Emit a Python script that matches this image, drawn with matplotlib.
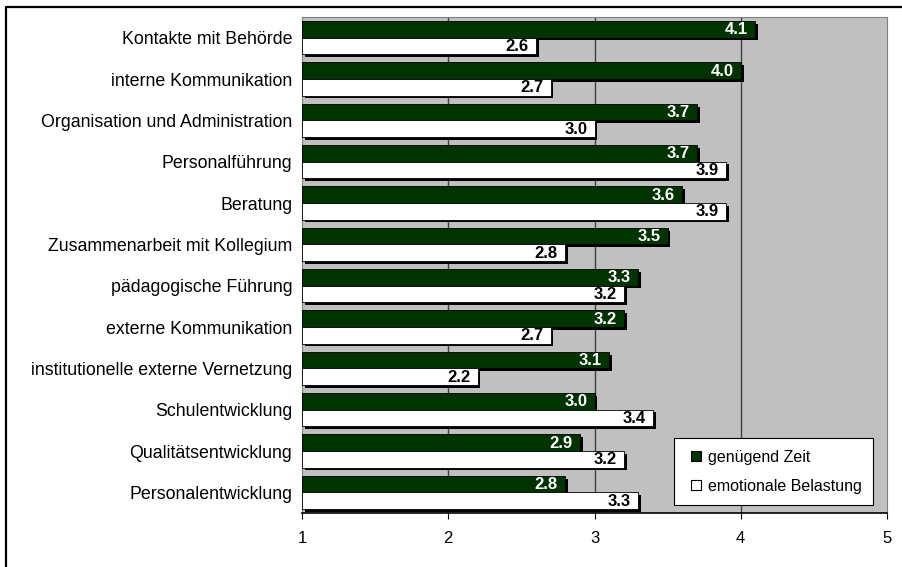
import matplotlib
matplotlib.use("Agg")
import matplotlib.pyplot as plt
import matplotlib.patheffects as pe
from matplotlib.lines import Line2D
import numpy as np

plt.rcParams['font.family'] = ['Liberation Sans', 'DejaVu Sans']

# Daten
kategorien = ['Kontakte mit Behörde', 'interne Kommunikation',
              'Organisation und Administration', 'Personalführung', 'Beratung',
              'Zusammenarbeit mit Kollegium', 'pädagogische Führung',
              'externe Kommunikation', 'institutionelle externe Vernetzung',
              'Schulentwicklung', 'Qualitätsentwicklung', 'Personalentwicklung']
genuegend_zeit = [4.1, 4.0, 3.7, 3.7, 3.6, 3.5, 3.3, 3.2, 3.1, 3.0, 2.9, 2.8]
emotionale_belastung = [2.6, 2.7, 3.0, 3.9, 3.9, 2.8, 3.2, 2.7, 2.2, 3.4, 3.2, 3.3]
serien = ['genügend Zeit', 'emotionale Belastung']
x_ticks = [1, 2, 3, 4, 5]

gruen = '#003300'
grau = '#c0c0c0'

fig = plt.figure(figsize=(9.03, 5.67), dpi=100)
ax = fig.add_axes([302 / 903, 1 - 513 / 567, 585 / 903, 496 / 567])
ax.set_facecolor(grau)

y = np.arange(len(kategorien))
h = 0.4
schatten = [pe.SimplePatchShadow(offset=(2.0, -2.0), shadow_rgbFace='black', alpha=1.0), pe.Normal()]

b1 = ax.barh(y - 0.2, np.array(genuegend_zeit) - 1, left=1, height=h,
             color=gruen, edgecolor='black', linewidth=0.6, zorder=3)
b2 = ax.barh(y + 0.2, np.array(emotionale_belastung) - 1, left=1, height=h,
             color='white', edgecolor='black', linewidth=0.6, zorder=3)
for bar in list(b1) + list(b2):
    bar.set_path_effects(schatten)

for yi, v in zip(y, genuegend_zeit):
    ax.text(v - 0.05, yi - 0.19, f'{v:.1f}', ha='right', va='center',
            color='white', fontsize=12, fontweight='bold', zorder=4)
for yi, v in zip(y, emotionale_belastung):
    ax.text(v - 0.05, yi + 0.21, f'{v:.1f}', ha='right', va='center',
            color='black', fontsize=12, fontweight='bold', zorder=4)

ax.set_xlim(1, 5)
ax.set_ylim(len(kategorien) - 0.5, -0.5)
ax.set_xticks(x_ticks)
ax.set_xticklabels([str(t) for t in x_ticks], fontsize=12)
ax.set_yticks(y)
ax.set_yticklabels(kategorien, fontsize=12.8)
ax.tick_params(axis='y', length=0, pad=7)
ax.tick_params(axis='x', length=4, direction='out', pad=9, color='black')

for gx in [2, 3, 4]:
    ax.axvline(gx, color='#404040', linewidth=1, zorder=1)

for s in ['top', 'right', 'left']:
    ax.spines[s].set_color('#808080')
ax.spines['bottom'].set_color('black')
ax.spines['bottom'].set_linewidth(1.2)

# Legende mit quadratischen Symbolen
handles = [Line2D([], [], linestyle='none', marker='s', markersize=7.5,
                  markerfacecolor=gruen, markeredgecolor='black', markeredgewidth=0.8),
           Line2D([], [], linestyle='none', marker='s', markersize=7.5,
                  markerfacecolor='white', markeredgecolor='black', markeredgewidth=0.8)]
leg = ax.legend(handles, serien, loc='lower right', bbox_to_anchor=(0.976, 0.016),
                fontsize=11.5, frameon=True, fancybox=False, edgecolor='black',
                framealpha=1, handlelength=1.45, handletextpad=0.0,
                labelspacing=0.9, borderpad=0.7, borderaxespad=0)
leg.get_frame().set_linewidth(0.8)

# Rahmen links und oben
fig.add_artist(Line2D([6.5 / 903, 6.5 / 903, 1.0], [0.0, 1 - 6.5 / 567, 1 - 6.5 / 567],
                      transform=fig.transFigure, color='black', linewidth=1.6))

fig.savefig('out.png', dpi=100)
